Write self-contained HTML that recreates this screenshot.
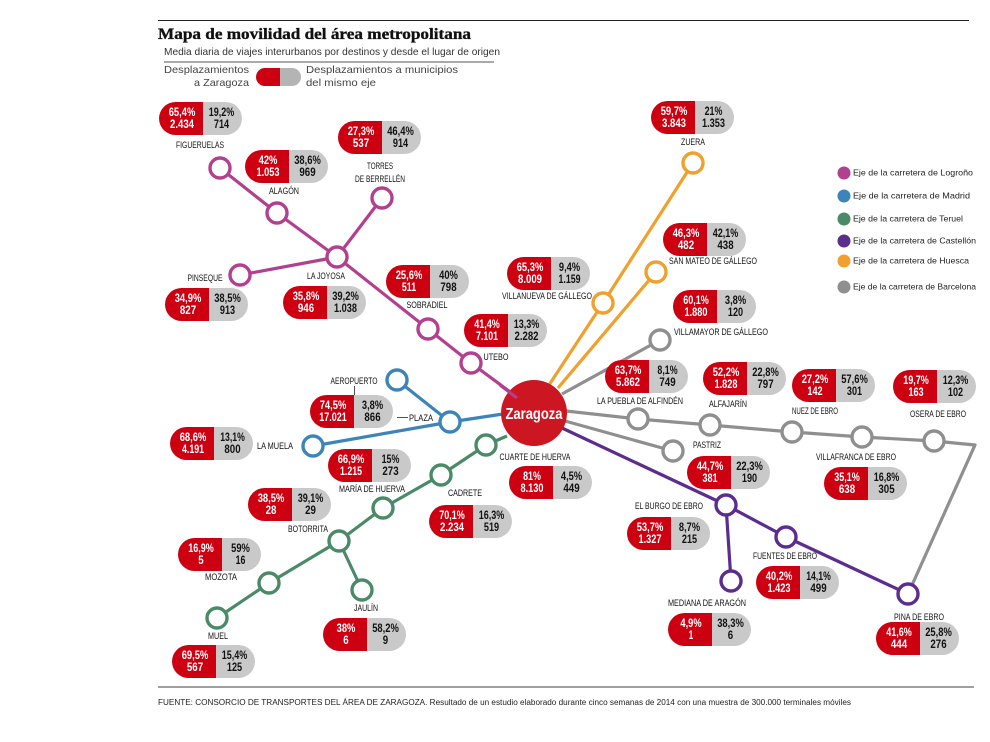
<!DOCTYPE html>
<html lang="es">
<head>
<meta charset="utf-8">
<title>Mapa de movilidad del área metropolitana</title>
<style>
html,body{margin:0;padding:0;background:#fff;}
svg{display:block;font-family:"Liberation Sans",sans-serif;filter:blur(0.3px);}
</style>
</head>
<body>
<svg id="map" xmlns="http://www.w3.org/2000/svg" width="990" height="742" viewBox="0 0 990 742">
  <rect width="990" height="742" fill="#fff"/>
  <line x1="158" y1="20.5" x2="969" y2="20.5" stroke="#222" stroke-width="1"/>
  <text x="158" y="39" font-family="'Liberation Serif',serif" font-weight="700" font-size="16" stroke="#111" stroke-width="0.35" textLength="313" lengthAdjust="spacingAndGlyphs" fill="#111">Mapa de movilidad del área metropolitana</text>
  <text x="164" y="55" font-size="10.5" textLength="336" lengthAdjust="spacingAndGlyphs" fill="#333">Media diaria de viajes interurbanos por destinos y desde el lugar de origen</text>
  <line x1="164" y1="62" x2="494" y2="62" stroke="#777" stroke-width="1.2"/>
  <g>
    <text x="249" y="73" text-anchor="end" font-size="10.5" textLength="85" lengthAdjust="spacingAndGlyphs" fill="#444">Desplazamientos</text>
    <text x="249" y="86" text-anchor="end" font-size="10.5" textLength="55" lengthAdjust="spacingAndGlyphs" fill="#444">a Zaragoza</text>
    <path d="M280 68H265a9 9 0 0 0 0 18H280Z" fill="#cc0011"/>
    <path d="M280 68H292a9 9 0 0 1 0 18H280Z" fill="#b4b4b4"/>
    <text x="306" y="73" font-size="10.5" textLength="152" lengthAdjust="spacingAndGlyphs" fill="#444">Desplazamientos a municipios</text>
    <text x="306" y="86" font-size="10.5" textLength="70" lengthAdjust="spacingAndGlyphs" fill="#444">del mismo eje</text>
  </g>
  <g id="edges"></g>
  <g id="hub">
    <circle cx="534" cy="413" r="33" fill="#cc1722"/>
    <text x="534" y="419" text-anchor="middle" font-weight="700" font-size="16" textLength="57" lengthAdjust="spacingAndGlyphs" fill="#fff">Zaragoza</text>
  </g>
  <g id="hubEdges"></g>
  <g id="nodes"></g>
  <g id="pills"></g>
  <g id="labels"></g>
  <g>
    <line x1="354.5" y1="386" x2="354.5" y2="395" stroke="#222" stroke-width="0.8"/>
    <line x1="397" y1="417.5" x2="408" y2="417.5" stroke="#222" stroke-width="0.8"/>
  </g>
  <g id="legend"></g>
  <line x1="158" y1="687" x2="974" y2="687" stroke="#666" stroke-width="1.2"/>
  <text x="158" y="705" font-size="8" textLength="693" lengthAdjust="spacingAndGlyphs" fill="#222">FUENTE: CONSORCIO DE TRANSPORTES DEL ÁREA DE ZARAGOZA. Resultado de un estudio elaborado durante cinco semanas de 2014 con una muestra de 300.000 terminales móviles</text>
</svg>
<script>
// Data
const stationNames = ["Figueruelas","Alagón","Torres de Berrellén","La Joyosa","Pinseque","Sobradiel","Utebo","Aeropuerto-Plaza","La Muela","Cuarte de Huerva","Cadrete","María de Huerva","Botorrita","Mozota","Muel","Jaulín","El Burgo de Ebro","Fuentes de Ebro","Mediana de Aragón","Pina de Ebro","Zuera","San Mateo de Gállego","Villanueva de Gállego","Villamayor de Gállego","La Puebla de Alfindén","Alfajarín","Pastriz","Nuez de Ebro","Villafranca de Ebro","Osera de Ebro"];
const toZaragozaPct = ["65,4%","42%","27,3%","35,8%","34,9%","25,6%","41,4%","74,5%","68,6%","81%","70,1%","66,9%","38,5%","16,9%","69,5%","38%","53,7%","40,2%","4,9%","41,6%","59,7%","46,3%","65,3%","60,1%","63,7%","52,2%","44,7%","27,2%","35,1%","19,7%"];
const toZaragozaTrips = ["2.434","1.053","537","946","827","511","7.101","17.021","4.191","8.130","2.234","1.215","28","5","567","6","1.327","1.423","1","444","3.843","482","8.009","1.880","5.862","1.828","381","142","638","163"];
const sameAxisPct = ["19,2%","38,6%","46,4%","39,2%","38,5%","40%","13,3%","3,8%","13,1%","4,5%","16,3%","15%","39,1%","59%","15,4%","58,2%","8,7%","14,1%","38,3%","25,8%","21%","42,1%","9,4%","3,8%","8,1%","22,8%","22,3%","57,6%","16,8%","12,3%"];
const sameAxisTrips = ["714","969","914","1.038","913","798","2.282","866","800","449","519","273","29","16","125","9","215","499","6","276","1.353","438","1.159","120","749","797","190","301","305","102"];

const axisNames = ["Logroño","Madrid","Teruel","Castellón","Huesca","Barcelona"];

// Map layout (geographic schematic, separate from the data)
const axisColors = ["#b2408f","#3d85b8","#4b8a68","#5b2d8e","#f0a02c","#8f8f8f"];
const legendYs = [173,196,219,241,261,287];
const nodeXY = [[220,168],[277,213],[382,198],[337,257],[240,275],[428,329],[471,363],[450,422],[313,446],[486,445],[441,475],[383,508],[339,541],[269,583],[217,618],[362,590],[726,505],[786,537],[731,581],[908,594],[693,163],[656,272],[603,303],[660,340],[638,419],[710,425],[673,451],[792,432],[862,437],[934,441]];
const pillXY = [[203,102],[289,150],[382,121],[327,286],[209,288],[430,265],[508,314],[354,395],[214,427],[553,466],[473,505],[372,449],[292,488],[222,538],[216,645],[367,618],[671,517],[800,566],[712,613],[920,622],[695,101],[707,223],[551,257],[717,290],[649,360],[747,362],[731,456],[836,369],[868,467],[937,370]];
const routeSegments = [
 [0,[[220,168],[277,213],[337,257],[428,329],[471,363],[517,397]]],
 [0,[[382,198],[337,257]]],
 [0,[[240,275],[337,257]]],
 [1,[[397,380],[450,422]]],
 [1,[[313,446],[450,422],[503,414]]],
 [2,[[507,436],[486,445],[441,475],[383,508],[339,541],[269,583],[217,618]]],
 [2,[[339,541],[362,590]]],
 [3,[[562,428],[726,505],[786,537],[908,594]]],
 [3,[[726,505],[731,581]]],
 [4,[[693,163],[603,303],[549,385]]],
 [4,[[656,272],[558,388]]],
 [5,[[660,340],[562,394]]],
 [5,[[566,411],[638,419],[710,425],[792,432],[862,437],[934,441],[975,445],[908,594]]],
 [5,[[565,421],[673,451]]]
];
const extraNode = [[397,380,1]];
const nodeAxis = [0,0,0,0,0,0,0,1,1,2,2,2,2,2,2,2,3,3,3,3,4,4,4,5,5,5,5,5,5,5];
const stationLabels = [
 ["FIGUERUELAS",200,148,48],["ALAGÓN",284,194,30],["TORRES",380,169,26],["DE BERRELLÉN",380,182,50],
 ["LA JOYOSA",326,279,38],["PINSEQUE",205,281,35],["SOBRADIEL",427,308,41],["UTEBO",496,360,25],
 ["ZUERA",693,145,24],["SAN MATEO DE GÁLLEGO",713,264,88],["VILLANUEVA DE GÁLLEGO",547,299,90],["VILLAMAYOR DE GÁLLEGO",721,335,94],
 ["LA PUEBLA DE ALFINDÉN",640,404,86],["ALFAJARÍN",728,407,38],["NUEZ DE EBRO",815,414,46],["OSERA DE EBRO",938,417,56],
 ["PASTRIZ",707,448,28],["VILLAFRANCA DE EBRO",856,460,80],["CUARTE DE HUERVA",535,460,71],["CADRETE",465,496,34],
 ["MARÍA DE HUERVA",372,492,66],["BOTORRITA",308,532,40],["MOZOTA",221,580,32],["MUEL",218,639,20],["JAULÍN",366,611,24],
 ["AEROPUERTO",354,384,47],["PLAZA",421,421,24],["LA MUELA",275,449,36],["EL BURGO DE EBRO",669,509,68],
 ["FUENTES DE EBRO",785,559,64],["MEDIANA DE ARAGÓN",707,606,78],["PINA DE EBRO",919,620,50]
];

const NS = "http://www.w3.org/2000/svg";
function mk(tag, parent, attrs, txt){
  const el = document.createElementNS(NS, tag);
  for (const k in attrs) el.setAttribute(k, attrs[k]);
  if (txt !== undefined) el.textContent = txt;
  parent.appendChild(el);
  return el;
}
function slug(s){
  return s.toLowerCase().normalize("NFD").replace(/[\u0300-\u036f]/g,"").replace(/[^a-z0-9]+/g,"-");
}
function numWidth(s){
  let w = 0;
  for (const c of s){
    if (c === "1") w += 4.4;
    else if (c === "," || c === ".") w += 2.4;
    else if (c === "%") w += 8;
    else w += 5.4;
  }
  return w;
}

const PILL_W_L = 44, PILL_W_R = 39, PILL_H = 33, PILL_R = 16.5;

const edgesG = document.getElementById("edges");
routeSegments.forEach(function(seg, i){
  const pts = seg[1].map(function(p){ return p.join(","); }).join(" ");
  const el = mk("polyline", edgesG, {points: pts, fill: "none", stroke: axisColors[seg[0]], "stroke-width": 3.2, "stroke-linejoin": "round"});
  
  
});
// The Logroño line runs over the hub circle
const overlay = mk("line", document.getElementById("hubEdges"), {x1: 500, y1: 385, x2: 517, y2: 398, stroke: axisColors[0], "stroke-width": 3.2});



const nodesG = document.getElementById("nodes");
function addNode(x, y, axis, name){
  const c = mk("circle", nodesG, {cx: x, cy: y, r: 10, fill: "#fff", stroke: axisColors[axis], "stroke-width": 3.4});
  
  
}
stationNames.forEach(function(n, i){
  addNode(nodeXY[i][0], nodeXY[i][1], nodeAxis[i], slug(n));
});
extraNode.forEach(function(n){
  addNode(n[0], n[1], n[2], 'aeropuerto');
});

const pillsG = document.getElementById("pills");
stationNames.forEach(function(n, i){
  const sx = pillXY[i][0], ty = pillXY[i][1], by = ty + PILL_H;
  const g = mk("g", pillsG, {});
  
  
  const red = mk("path", g, {d: "M"+sx+" "+ty+"H"+(sx-PILL_W_L+PILL_R)+"a"+PILL_R+" "+PILL_R+" 0 0 0 0 "+PILL_H+"H"+sx+"Z", fill: "#cc0011"});
  
  
  const gray = mk("path", g, {d: "M"+sx+" "+ty+"H"+(sx+PILL_W_R-PILL_R)+"a"+PILL_R+" "+PILL_R+" 0 0 1 0 "+PILL_H+"H"+sx+"Z", fill: "#c9c9c9"});
  
  
  const lx = sx - PILL_W_L/2 + 1, rx = sx + PILL_W_R/2 - 1;
  const rows = [
    [lx, ty+14, toZaragozaPct[i], "#fff", "to-zaragoza-pct"],
    [lx, ty+26, toZaragozaTrips[i], "#fff", "to-zaragoza-trips"],
    [rx, ty+14, sameAxisPct[i], "#111", "same-axis-pct"],
    [rx, ty+26, sameAxisTrips[i], "#111", "same-axis-trips"]
  ];
  rows.forEach(function(r){
    const t = mk("text", g, {x: r[0], y: r[1], "text-anchor": "middle", "font-weight": 700, "font-size": 11.5, fill: r[3], textLength: numWidth(r[2]).toFixed(1), lengthAdjust: "spacingAndGlyphs"}, r[2]);
    
    
  });
});

const labelsG = document.getElementById("labels");
stationLabels.forEach(function(l){
  const t = mk("text", labelsG, {x: l[1], y: l[2], "text-anchor": "middle", "font-size": 9, fill: "#111", textLength: l[3], lengthAdjust: "spacingAndGlyphs"}, l[0]);
  
  
});

const legendG = document.getElementById("legend");
const legendWidths = [120,117,110,123,116,123];
axisNames.forEach(function(n, i){
  const dot = mk("circle", legendG, {cx: 844, cy: legendYs[i], r: 6.5, fill: axisColors[i]});
  
  
  const t = mk("text", legendG, {x: 853, y: legendYs[i] + 2.5, "font-size": 8.5, fill: "#222", textLength: legendWidths[i], lengthAdjust: "spacingAndGlyphs"}, "Eje de la carretera de " + n);
  
  
});
</script>
</body>
</html>
